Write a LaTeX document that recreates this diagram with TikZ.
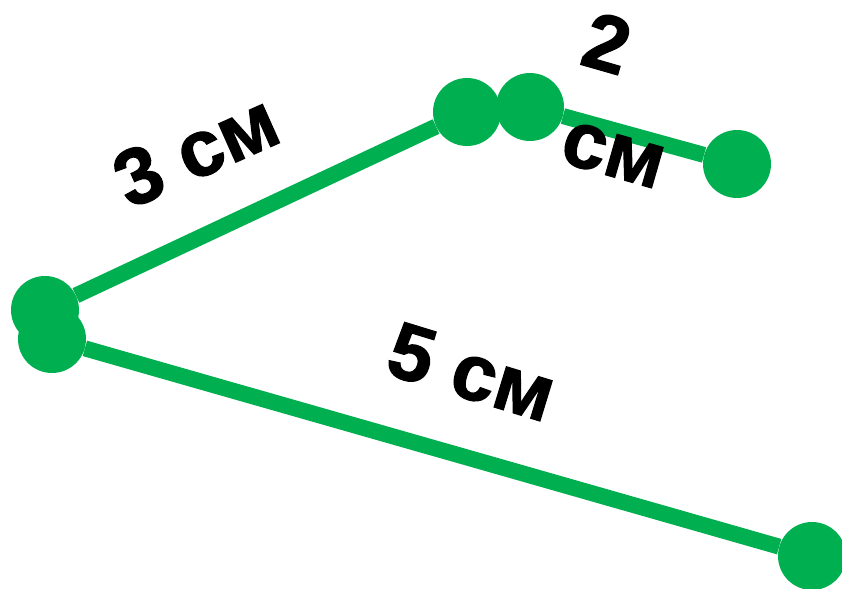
\documentclass[tikz,border=0pt]{standalone}
\usepackage{fontspec}
\setmainfont{Liberation Sans}[BoldFeatures={FakeBold=1.5}]
\definecolor{dotgreen}{RGB}{0,176,80}
\begin{document}
\begin{tikzpicture}[x=1bp,y=-1bp,
  dot/.style={circle,fill=dotgreen,inner sep=0pt,minimum size=68bp},
  seg/.style={draw=dotgreen,line width=16bp},
  lbl/.style={inner sep=0pt,font=\fontsize{80}{100}\selectfont\bfseries}]
\useasboundingbox (0,0) rectangle (842,589);
\node[dot] (A1) at (45,310) {};
\node[dot] (A2) at (52,339) {};
\node[dot] (B1) at (467,112) {};
\node[dot] (B2) at (530,107) {};
\node[dot] (C) at (737,164) {};
\node[dot] (D) at (812,556) {};
\draw[seg] (A1) -- (B1);
\draw[seg] (B2) -- (C);
\draw[seg] (A2) -- (D);
\node[lbl,rotate=24] (L3) at (196,150) {3 см};
\node[lbl,rotate=-16] (L2a) at (607,43) {2};
\node[lbl,rotate=-16] (L2b) at (613,155) {см};
\node[lbl,rotate=-17] (L5) at (472,372) {5 см};
\end{tikzpicture}
\end{document}
